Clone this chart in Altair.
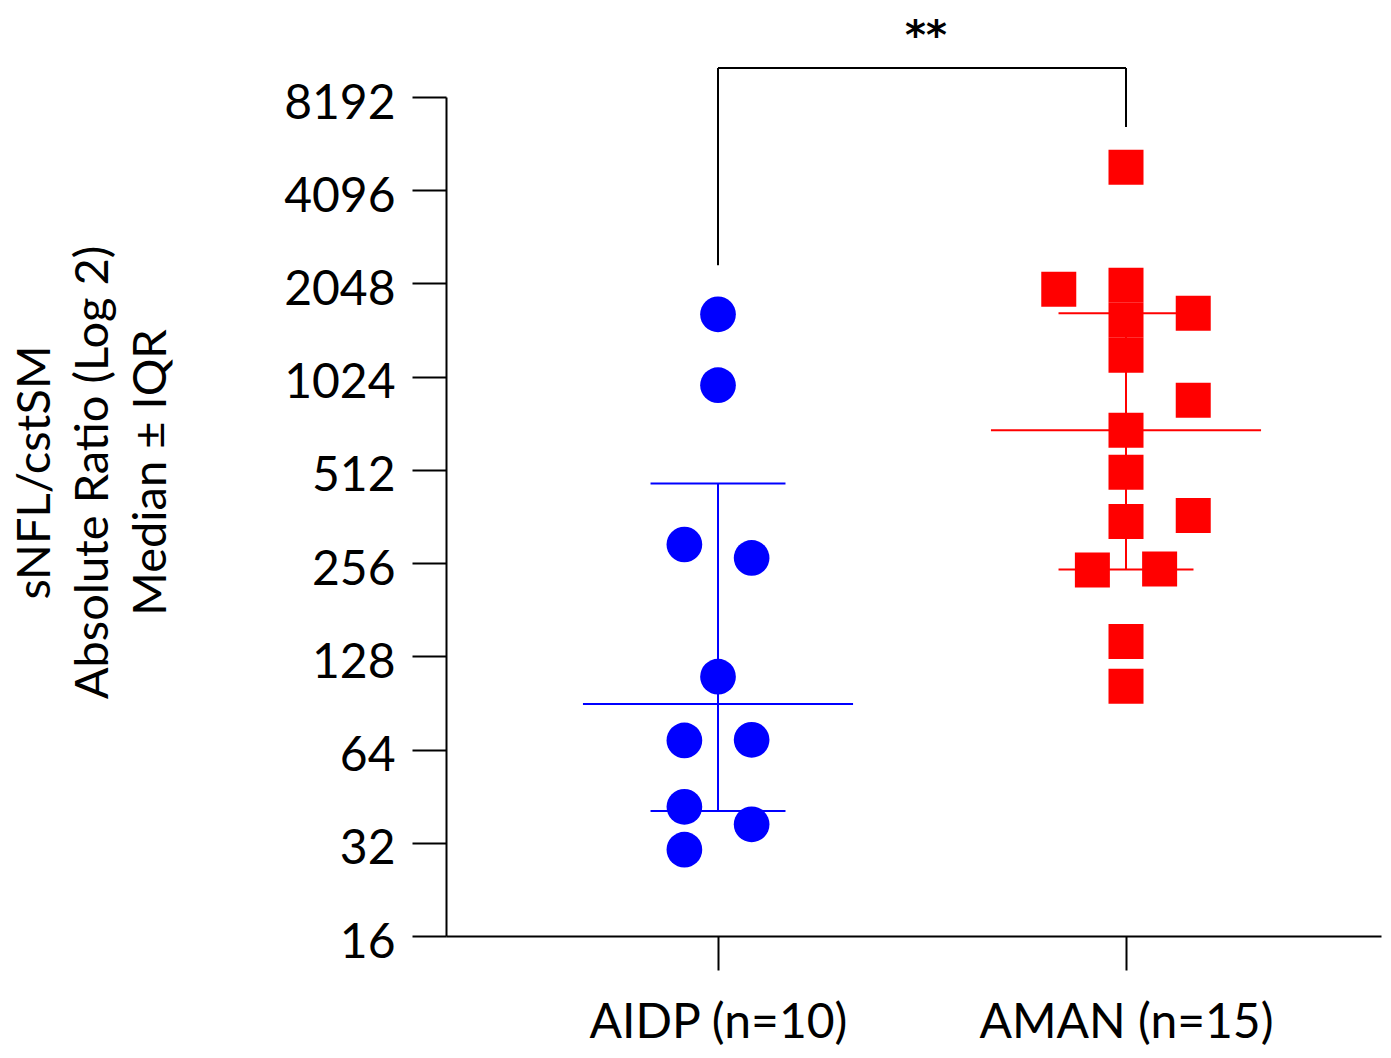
import altair as alt
import pandas as pd

# ---------------- data ----------------
groups = ["AIDP (n=10)", "AMAN (n=15)"]
group_pos = [1, 2]
group_colors = ["#0000FF", "#FF0000"]

aidp_values = [1628, 961, 294, 266, 110, 68.5, 68.8, 41.8, 36.7, 30.4]
aidp_cols = [0, 0, -1, 1, 0, -1, 1, -1, 1, -1]
aman_values = [4857, 2019, 1557, 1200, 1961, 1641, 859, 687, 503, 349, 365, 243, 245, 143, 102.5]
aman_cols = [0, 0, 0, 0, -2, 2, 2, 0, 0, 0, 2, -1, 1, 0, 0]

medians = [89.8, 687]
q1 = [40.5, 244]
q3 = [463, 1641]

y_ticks = [16, 32, 64, 128, 256, 512, 1024, 2048, 4096, 8192]
y_title = ["sNFL/cstSM", "Absolute Ratio (Log 2)", "Median \u00b1 IQR"]

bracket_left_bottom = 2345
bracket_top = 10165
bracket_right_bottom = 6553
sig_label = "**"
sig_y = 12800

# ---------------- frames ----------------
JIT = 0.0824
MED_HALF = 0.331
CAP_HALF = 0.1654

aidp_df = pd.DataFrame({"pos": group_pos[0], "value": aidp_values, "col": aidp_cols})
aman_df = pd.DataFrame({"pos": group_pos[1], "value": aman_values, "col": aman_cols})

stats_df = pd.DataFrame({
    "group": groups, "pos": group_pos, "median": medians, "q1": q1, "q3": q3,
})

bracket_df = pd.DataFrame({
    "x": [group_pos[0], group_pos[0], group_pos[1]],
    "x2": [group_pos[0], group_pos[1], group_pos[1]],
    "y": [bracket_left_bottom, bracket_top, bracket_right_bottom],
    "y2": [bracket_top, bracket_top, bracket_top],
})
sig_df = pd.DataFrame({"x": [(group_pos[0] + group_pos[1]) / 2], "y": [sig_y], "t": [sig_label]})

FONT = "Lato"
label_expr = " : ".join(
    [f"datum.value == {p} ? '{g}'" for p, g in zip(group_pos, groups)]
) + " : ''"

x_scale = alt.Scale(domain=[0.3333, 2.625], nice=False, zero=False)
y_scale = alt.Scale(type="log", base=2, domain=[16, 8192], nice=False)

x_axis = alt.Axis(
    values=group_pos, labelExpr=label_expr, grid=False, title=None,
    tickSize=34, tickWidth=2, tickColor="black", domainWidth=2, domainColor="black",
    labelFont=FONT, labelFontSize=48, labelColor="black", labelPadding=29, labelLimit=0,
)
y_axis = alt.Axis(
    values=y_ticks, format="d", grid=False, title=y_title,
    tickSize=34, tickWidth=2, tickColor="black", domainWidth=2, domainColor="black",
    labelFont=FONT, labelFontSize=48, labelColor="black", labelPadding=17, labelOffset=7,
    titleFont=FONT, titleFontSize=47, titleFontWeight="normal", titleColor="black",
    titleLineHeight=58, titleAngle=270, titleAlign="center", titleBaseline="alphabetic",
    titleX=-397, titleY=375, titleLimit=0,
)


def X(field):
    return alt.X(field, type="quantitative", scale=x_scale, axis=x_axis)


def Y(field):
    return alt.Y(field, type="quantitative", scale=y_scale, axis=y_axis)


color_enc = alt.Color("group:N", scale=alt.Scale(domain=groups, range=group_colors), legend=None)

stats_base = alt.Chart(stats_df)
median_rule = stats_base.transform_calculate(
    xa=f"datum.pos - {MED_HALF}", xb=f"datum.pos + {MED_HALF}"
).mark_rule(strokeWidth=2).encode(x=X("xa"), x2="xb:Q", y=Y("median"), color=color_enc)
q1_rule = stats_base.transform_calculate(
    xa=f"datum.pos - {CAP_HALF}", xb=f"datum.pos + {CAP_HALF}"
).mark_rule(strokeWidth=2).encode(x=X("xa"), x2="xb:Q", y=Y("q1"), color=color_enc)
q3_rule = stats_base.transform_calculate(
    xa=f"datum.pos - {CAP_HALF}", xb=f"datum.pos + {CAP_HALF}"
).mark_rule(strokeWidth=2).encode(x=X("xa"), x2="xb:Q", y=Y("q3"), color=color_enc)
iqr_rule = stats_base.mark_rule(strokeWidth=2).encode(x=X("pos"), y=Y("q1"), y2="q3:Q", color=color_enc)

aidp_pts = alt.Chart(aidp_df).transform_calculate(
    xp=f"datum.pos + datum.col * {JIT}"
).mark_circle(size=1274, color=group_colors[0], opacity=1).encode(x=X("xp"), y=Y("value"))

aman_pts = alt.Chart(aman_df).transform_calculate(
    xp=f"datum.pos + datum.col * {JIT}"
).mark_square(size=1225, color=group_colors[1], opacity=1).encode(x=X("xp"), y=Y("value"))

bracket = alt.Chart(bracket_df).mark_rule(color="black", strokeWidth=2).encode(
    x=X("x"), x2="x2:Q", y=Y("y"), y2="y2:Q"
)
sig = alt.Chart(sig_df).mark_text(
    font="DejaVu Sans", fontSize=40, fontWeight="bold", color="black",
    align="center", baseline="middle", dx=4,
).encode(x=X("x"), y=Y("y"), text="t:N")

chart = alt.layer(
    median_rule, q1_rule, q3_rule, iqr_rule, aidp_pts, aman_pts, bracket, sig
).properties(
    width=935, height=839,
    padding={"left": 438, "top": 89, "right": 2, "bottom": 110},
    autosize=alt.AutoSizeParams(type="none"),
    background="white",
).configure_view(stroke=None)

chart.save("out.html", embed_options={"renderer": "svg", "actions": False})
